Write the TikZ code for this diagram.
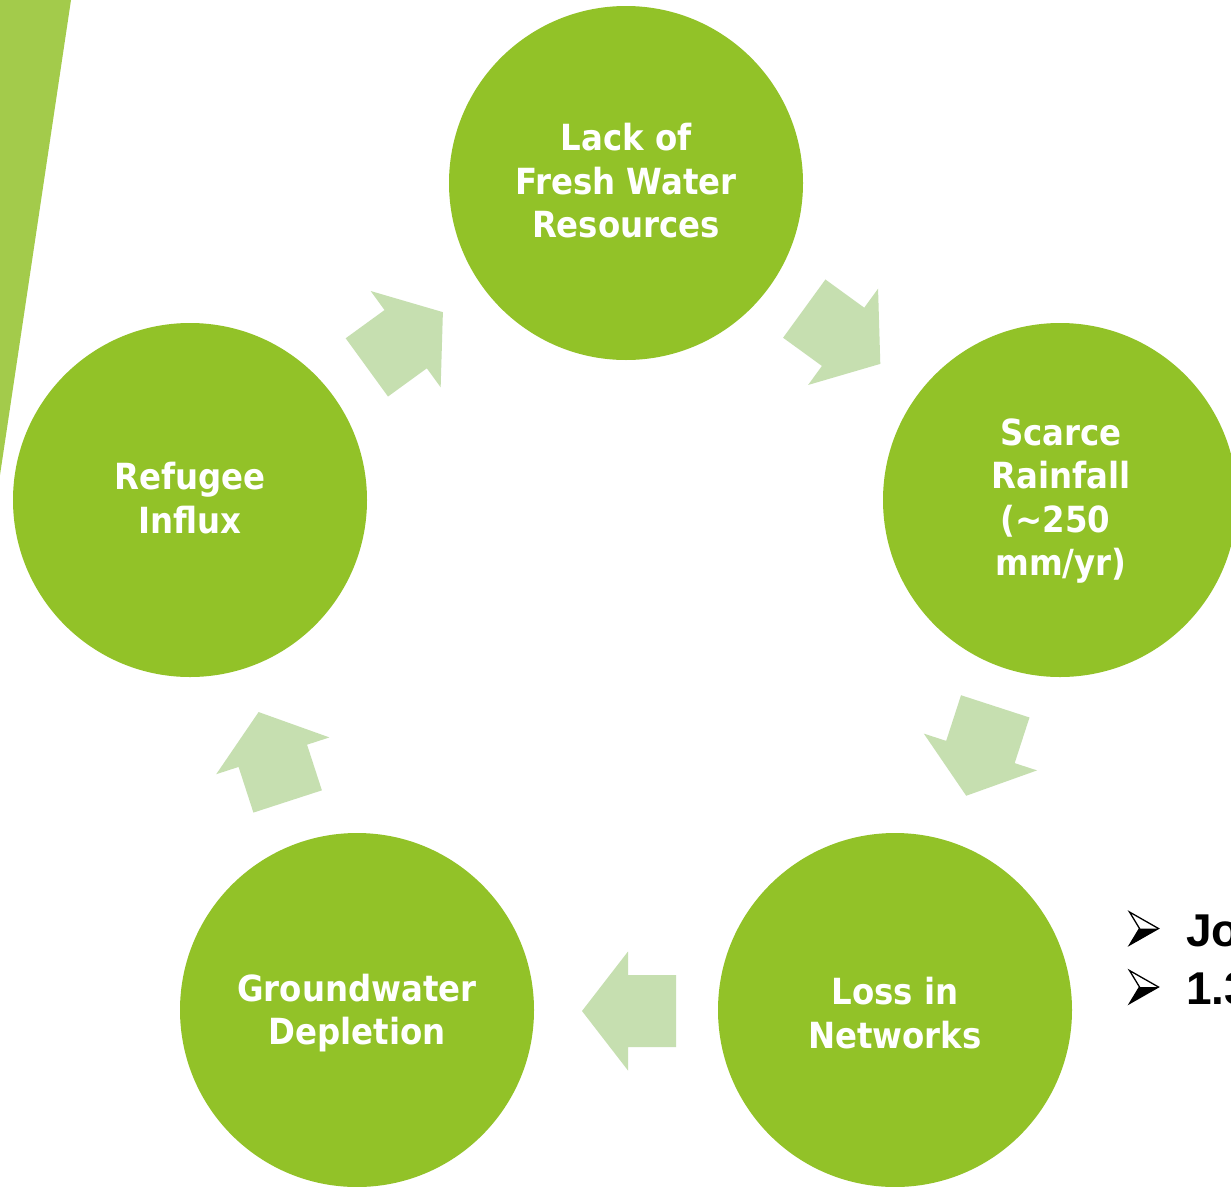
\documentclass[tikz,border=0pt]{standalone}
\usepackage{fontspec}
\newfontfamily\lblfont[FakeStretch=0.9]{DejaVu Sans}
\newfontfamily\bulfont{Liberation Sans}
\definecolor{circgreen}{HTML}{92C228}
\definecolor{wedgegreen}{HTML}{A3CB4B}
\definecolor{arrowgreen}{HTML}{C6DFB0}
\tikzset{
  cyclecircle/.style={circle, fill=circgreen, draw=none, minimum size=354pt, inner sep=0pt},
  cycletext/.style={text=white, align=center, inner sep=0pt,
    font=\lblfont\bfseries\fontsize{36}{43.5}\selectfont},
  bullettext/.style={anchor=base west, inner sep=0pt, text=black,
    font=\bulfont\bfseries\fontsize{46}{46}\selectfont},
  blockarrow/.pic={\fill[arrowgreen] (-50,-36) -- (-2,-36) -- (-2,-59.5) -- (44,0)
      -- (-2,59.5) -- (-2,36) -- (-50,36) -- cycle;},
  bulletmark/.pic={
    \fill[black] (10,0) -- (29,0) -- (0,16.5) -- cycle;
    \draw[black, line width=1.3pt, line join=miter] (0,-16.5) -- (29,0) -- (0,16.5) -- (10,0) -- cycle;}
}
\begin{document}
\begin{tikzpicture}[x=1pt,y=-1pt]
\useasboundingbox (0,0) rectangle (1231,1186);
\clip (0,0) rectangle (1231,1186);
\fill[white] (0,0) rectangle (1231,1186);
\fill[wedgegreen] (0,0) -- (71,0) -- (0,475) -- cycle;

\node[cyclecircle] (c1) at (626,183) {};
\node[cyclecircle] (c2) at (1060,500) {};
\node[cyclecircle] (c3) at (895,1010) {};
\node[cyclecircle] (c4) at (357,1010) {};
\node[cyclecircle] (c5) at (190,500) {};

\node[cycletext] (t1) at (626,181) {Lack of\\Fresh Water\\Resources};
\node[cycletext] (t2) at (1061,501) {Scarce\\Rainfall\\(\textasciitilde250\kern11pt\\mm/yr)};
\node[cycletext] (t3) at (895,1013) {Loss in\\Networks};
\node[cycletext] (t4) at (357,1013) {Groundwater\\Depletion};
\node[cycletext] (t5) at (190,498) {Refugee\\Influx};

\pic[rotate=-36] (a1) at (844.7,338) {blockarrow};
\pic[rotate=-108] (a2) at (979.8,753.9) {blockarrow};
\pic[rotate=180] (a3) at (626,1011) {blockarrow};
\pic[rotate=108] (a4) at (272.2,753.9) {blockarrow};
\pic[rotate=36] (a5) at (407.3,338) {blockarrow};

\pic (m1) at (1129.5,928.5) {bulletmark};
\pic (m2) at (1129.5,987) {bulletmark};
\node[bullettext] (b1) at (1186,946) {Jo};
\node[bullettext] (b2) at (1186,1004) {1.3};
\end{tikzpicture}
\end{document}
